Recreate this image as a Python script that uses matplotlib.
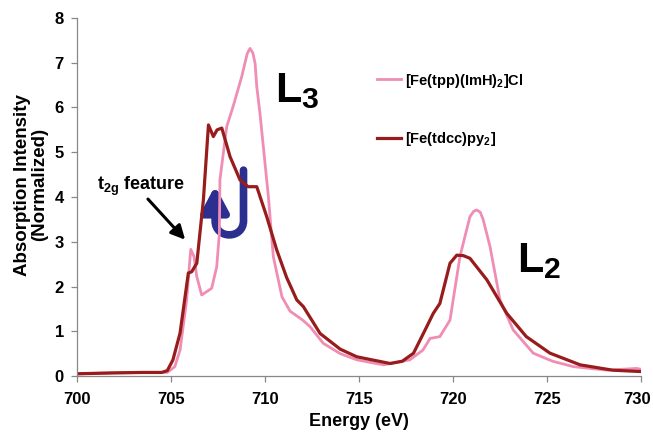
import matplotlib
matplotlib.use("Agg")
import matplotlib.pyplot as plt
import matplotlib.transforms as mtransforms
from matplotlib.path import Path
from matplotlib.patches import FancyArrowPatch

# [Fe(tpp)(ImH)2]Cl  (pink)
e_tpp = [700, 702, 704, 704.8, 705.2, 705.48, 705.83, 705.97, 706.05, 706.22, 706.37,
         706.63, 707.16, 707.43, 707.57, 707.6, 707.96, 708.3, 708.76, 709.05, 709.2,
         709.35, 709.47, 709.56, 709.73, 710.0, 710.18, 710.44, 710.9, 711.33, 712.0,
         712.4, 713.1, 714.0, 714.9, 716.3, 717.7, 718.4, 718.78, 719.3, 719.84, 720.37,
         720.9, 721.1, 721.26, 721.45, 721.6, 721.97, 722.5, 723.2, 724.27, 725.3, 726.4,
         728.2, 729.77, 730]
i_tpp = [0.05, 0.07, 0.08, 0.08, 0.21, 0.58, 1.7, 2.44, 2.83, 2.67, 2.22,
         1.81, 1.96, 2.44, 3.19, 4.38, 5.57, 6.02, 6.69, 7.2, 7.32,
         7.22, 6.99, 6.47, 5.87, 4.75, 4.0, 2.67, 1.77, 1.45, 1.25,
         1.1, 0.73, 0.5, 0.36, 0.25, 0.36, 0.58, 0.84, 0.88, 1.25, 2.67,
         3.56, 3.68, 3.71, 3.66, 3.5, 2.89, 1.7, 1.03, 0.51, 0.33, 0.21,
         0.13, 0.17, 0.15]

# [Fe(tdcc)py2]  (dark red)
e_tdcc = [700, 702, 703.5, 704.5, 704.8, 705.1, 705.48, 705.92, 706.1, 706.37, 706.72,
          706.99, 707.25, 707.45, 707.7, 708.14, 708.67, 709.1, 709.56, 710.09, 710.62,
          711.15, 711.69, 712.04, 712.93, 714.0, 714.88, 716.65, 717.3, 717.9, 718.6,
          718.95, 719.3, 719.84, 720.2, 720.55, 720.9, 721.8, 722.86, 723.9, 725.16,
          726.76, 728.5, 730]
i_tdcc = [0.05, 0.07, 0.08, 0.08, 0.12, 0.36, 0.96, 2.3, 2.33, 2.52, 3.93,
          5.61, 5.35, 5.5, 5.54, 4.9, 4.38, 4.23, 4.23, 3.56, 2.82,
          2.2, 1.7, 1.55, 0.95, 0.6, 0.43, 0.28, 0.33, 0.51, 1.1,
          1.4, 1.62, 2.52, 2.7, 2.69, 2.63, 2.15, 1.4, 0.88, 0.51,
          0.25, 0.13, 0.1]

labels = [r"[Fe(tpp)(ImH)$_2$]Cl", r"[Fe(tdcc)py$_2$]"]
x_ticks = [700, 705, 710, 715, 720, 725, 730]
y_ticks = [0, 1, 2, 3, 4, 5, 6, 7, 8]

plt.rcParams["font.family"] = ["Liberation Sans", "DejaVu Sans"]
plt.rcParams["font.weight"] = "bold"
plt.rcParams["mathtext.fontset"] = "custom"
plt.rcParams["mathtext.rm"] = "Liberation Sans:bold"
plt.rcParams["mathtext.it"] = "Liberation Sans:bold"
plt.rcParams["mathtext.bf"] = "Liberation Sans:bold"
plt.rcParams["mathtext.default"] = "bf"

fig = plt.figure(figsize=(6.53, 4.34), dpi=100)
ax = fig.add_axes([0.118, 0.1336, 0.8636, 0.825])

ax.plot(e_tpp, i_tpp, color="#f08db4", lw=2.0, label=labels[0])
ax.plot(e_tdcc, i_tdcc, color="#981c1c", lw=2.3, label=labels[1])

ax.set_xlim(700, 730)
ax.set_ylim(0, 8)
ax.set_xticks(x_ticks)
ax.set_yticks(y_ticks)
for s in ["top", "right"]:
    ax.spines[s].set_visible(False)
for s in ["left", "bottom"]:
    ax.spines[s].set_color("#888888")
    ax.spines[s].set_linewidth(0.9)
ax.tick_params(axis="both", direction="out", length=4.5, color="#888888", width=0.9)
ax.tick_params(axis="x", labelsize=12, pad=7)
ax.tick_params(axis="y", labelsize=12, pad=5)

# keep the last x label inside the picture
last = ax.get_xticklabels()[-1]
last.set_transform(last.get_transform() +
                   mtransforms.ScaledTranslation(-4 / 100, 0, fig.dpi_scale_trans))

ax.set_xlabel("Energy (eV)", fontsize=13, fontweight="bold", labelpad=4)
ax.set_ylabel("Absorption Intensity\n(Normalized)", fontsize=13.5, fontweight="bold",
              linespacing=1.0)
ax.yaxis.set_label_coords(-0.052, 0.534)

leg = ax.legend(loc="center left", bbox_to_anchor=(0.531, 0.743), frameon=False,
                fontsize=10.5, handlelength=1.7, handletextpad=0.25, labelspacing=2.8,
                borderpad=0, borderaxespad=0)

# annotations
ax.text(710.53, 6.13, r"L$_3$", fontsize=31, fontweight="bold", ha="left", va="baseline")
ax.text(723.4, 2.33, r"L$_2$", fontsize=31, fontweight="bold", ha="left", va="baseline")
ax.text(701.08, 4.16, r"t$_{2g}$ feature", fontsize=13, fontweight="bold",
        ha="left", va="baseline")
ax.annotate("", xy=(705.85, 3.0), xytext=(703.67, 4.0),
            arrowprops=dict(arrowstyle="-|>,head_length=0.6,head_width=0.3",
                            color="black", lw=2.2, mutation_scale=14))

# blue U-turn arrow
cx, cy, rx, ry = 708.1, 3.47, 0.755, 0.317
k = 1.33
verts = [(cx + rx, 4.6), (cx + rx, cy),
         (cx + rx, cy - k * ry), (cx - rx, cy - k * ry), (cx - rx, cy),
         (cx - rx, 4.25)]
codes = [Path.MOVETO, Path.LINETO, Path.CURVE4, Path.CURVE4, Path.CURVE4, Path.LINETO]
u_arrow = FancyArrowPatch(path=Path(verts, codes),
                          arrowstyle="-|>,head_length=0.75,head_width=0.4",
                          mutation_scale=20, color="#2b2f8f", lw=5.5)
ax.add_patch(u_arrow)

fig.savefig("out.png", dpi=100)
